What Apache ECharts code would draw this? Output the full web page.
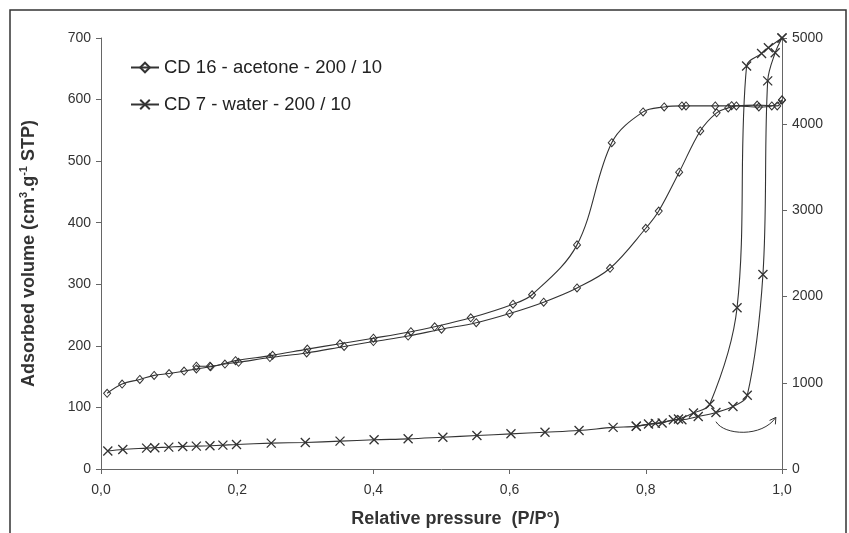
<!DOCTYPE html>
<html>
<head>
<meta charset="utf-8">
<script src="https://cdn.jsdelivr.net/npm/echarts@6/dist/echarts.min.js"></script>
<style>
html,body{margin:0;padding:0;background:#fff;}
#chart{width:849px;height:533px;}
</style>
</head>
<body>
<div id="chart"></div>
<script>
// ---- data ----
const xTickLabels = ['0,0', '0,2', '0,4', '0,6', '0,8', '1,0'];
const leftTickLabels = ['0', '100', '200', '300', '400', '500', '600', '700'];
const rightTickLabels = ['0', '1000', '2000', '3000', '4000', '5000'];

const seriesNames = ['CD 16 - acetone - 200 / 10', 'CD 7 - water - 200 / 10'];

// CD 16 (left axis) adsorption branch
const cd16Ads = [
  [0.009,123],[0.031,138],[0.057,145.5],[0.078,152],[0.10,155],[0.122,159],
  [0.14,162.5],[0.161,166],[0.182,170.5],[0.202,173.3],[0.248,181],[0.302,188.5],
  [0.357,199],[0.40,207],[0.451,216],[0.50,227],[0.551,237.6],[0.60,252.6],
  [0.65,271],[0.699,294],[0.7475,326],[0.80,391],[0.819,419],[0.849,482],
  [0.88,549],[0.904,578.5],[0.921,586.5],[0.933,589.7],[0.966,588],[0.985,589.7],[1.0,599.4]
];
// CD 16 (left axis) desorption branch
const cd16Des = [
  [1.0,599.4],[0.993,589.7],[0.9635,591],[0.926,590],[0.902,589.7],[0.859,589.7],[0.853,589.7],
  [0.827,588],[0.796,580],[0.75,530],[0.699,364],[0.633,283],[0.605,267.7],
  [0.543,245.6],[0.49,231],[0.455,223],[0.40,212.4],[0.351,203.4],[0.303,194.7],
  [0.252,184.6],[0.1975,176],[0.16,167],[0.14,166.9]
];
// CD 7 (right axis) adsorption branch
const cd7Ads = [
  [0.01,208],[0.032,227],[0.067,242],[0.079,247],[0.0995,254],[0.12,262],[0.14,265],
  [0.16,270],[0.179,277],[0.199,285],[0.25,300],[0.30,308],[0.351,323],[0.401,339],
  [0.451,350],[0.502,369],[0.552,388],[0.602,408],[0.652,426],[0.702,446],[0.752,483],
  [0.786,495],[0.804,522],[0.824,534],[0.8405,572],[0.853,572],[0.877,610],[0.903,656],
  [0.928,725],[0.949,855],[0.972,2257],[0.979,4503],[0.990,4829],[1.0,5000]
];
// CD 7 (right axis) desorption branch
const cd7Des = [
  [1.0,5000],[0.98,4887],[0.970,4821],[0.948,4675],[0.934,1870],[0.894,752],
  [0.870,649],[0.848,580],[0.814,529],[0.786,497]
];

// ---- chart ----
const chart = echarts.init(document.getElementById('chart'), null, {renderer: 'canvas'});
const INK = '#333';
const AXIS = '#666';
const FONT = 'Liberation Sans, Arial, sans-serif';
const xSymbol = 'path://M0,0L10,10M0,10L10,0';

function lineSeries(name, data, yIdx, symbol, size, bw) {
  return {
    type: 'line', name: name, data: data, yAxisIndex: yIdx,
    smooth: 0.35,
    symbol: symbol, symbolSize: size, showSymbol: true, showAllSymbol: true,
    lineStyle: {color: INK, width: 1.1},
    itemStyle: {color: 'rgba(255,255,255,0)', borderColor: INK, borderWidth: bw},
    emphasis: {disabled: true},
    animation: false
  };
}

const option = {
  animation: false,
  backgroundColor: '#fff',
  grid: {left: 101, right: 67, top: 38, bottom: 59},
  legend: {
    orient: 'vertical', left: 125, top: 52,
    itemWidth: 28, itemHeight: 12, itemGap: 16,
    data: seriesNames,
    textStyle: {fontFamily: FONT, fontSize: 18.5, color: '#222', lineHeight: 21},
    selectedMode: false
  },
  xAxis: {
    type: 'value', min: 0, max: 1, interval: 0.2,
    axisLine: {show: true, lineStyle: {color: AXIS, width: 1}},
    axisTick: {show: true, inside: false, length: 5, lineStyle: {color: AXIS}},
    splitLine: {show: false},
    axisLabel: {
      margin: 14, color: '#333', fontFamily: FONT, fontSize: 14,
      formatter: function (v) { return xTickLabels[Math.round(v / 0.2)]; }
    },
    name: 'Relative pressure  (P/P°)', nameLocation: 'middle', nameGap: 41,
    nameTextStyle: {fontFamily: FONT, fontSize: 18, fontWeight: 'bold', color: '#333', padding: [0, 0, 0, 28]}
  },
  yAxis: [
    {
      type: 'value', min: 0, max: 700, interval: 100, position: 'left',
      axisLine: {show: true, lineStyle: {color: AXIS, width: 1}},
      axisTick: {show: true, inside: false, length: 5, lineStyle: {color: AXIS}},
      splitLine: {show: false},
      axisLabel: {
        margin: 10, color: '#333', fontFamily: FONT, fontSize: 14,
        formatter: function (v) { return leftTickLabels[Math.round(v / 100)]; }
      },
      name: 'Adsorbed volume (cm{sup|3}.g{sup|-1} STP)',
      nameLocation: 'middle', nameGap: 61, nameRotate: 90,
      nameTextStyle: {
        fontFamily: FONT, fontSize: 18, fontWeight: 'bold', color: '#333', lineHeight: 22,
        rich: {sup: {fontFamily: FONT, fontSize: 11, fontWeight: 'bold', color: '#333', verticalAlign: 'top', lineHeight: 12}}
      }
    },
    {
      type: 'value', min: 0, max: 5000, interval: 1000, position: 'right',
      axisLine: {show: true, lineStyle: {color: AXIS, width: 1}},
      axisTick: {show: true, inside: false, length: 5, lineStyle: {color: AXIS}},
      splitLine: {show: false},
      axisLabel: {
        margin: 10, color: '#333', fontFamily: FONT, fontSize: 14,
        formatter: function (v) { return rightTickLabels[Math.round(v / 1000)]; }
      }
    }
  ],
  series: [
    lineSeries(seriesNames[0], cd16Ads, 0, 'diamond', [7, 8], 1),
    lineSeries(seriesNames[0], cd16Des, 0, 'diamond', [7, 8], 1),
    lineSeries(seriesNames[1], cd7Ads, 1, xSymbol, 9, 1.3),
    lineSeries(seriesNames[1], cd7Des, 1, xSymbol, 9, 1.3)
  ]
};
chart.setOption(option);

// annotation arrow (points to the right axis), placed in right-axis data units
const arrowPts = [[0.903, 549], [0.915, 388], [0.971, 365], [0.991, 599]];
const px = arrowPts.map(p => chart.convertToPixel({xAxisIndex: 0, yAxisIndex: 1}, p));
const end = px[3], c2 = px[2];
const dx = end[0] - c2[0], dy = end[1] - c2[1];
const len = Math.sqrt(dx * dx + dy * dy);
const ux = dx / len, uy = dy / len;
const hl = 7, ang = Math.PI / 6;
function rot(x, y, a) { return [x * Math.cos(a) - y * Math.sin(a), x * Math.sin(a) + y * Math.cos(a)]; }
const w1 = rot(-ux, -uy, ang), w2 = rot(-ux, -uy, -ang);

chart.setOption({
  graphic: [
    {
      type: 'polyline', silent: true, z: 100,
      shape: {points: [[10, 533], [10, 10], [846, 10], [846, 533]]},
      style: {stroke: '#333', lineWidth: 1.5, fill: null}
    },
    {
      type: 'bezierCurve', silent: true, z: 50,
      shape: {x1: px[0][0], y1: px[0][1], cpx1: px[1][0], cpy1: px[1][1], cpx2: px[2][0], cpy2: px[2][1], x2: end[0], y2: end[1]},
      style: {stroke: INK, lineWidth: 1, fill: null}
    },
    {
      type: 'polyline', silent: true, z: 50,
      shape: {points: [[end[0] + w1[0] * hl, end[1] + w1[1] * hl], end, [end[0] + w2[0] * hl, end[1] + w2[1] * hl]]},
      style: {stroke: INK, lineWidth: 1, fill: null}
    }
  ]
});
</script>
</body>
</html>
